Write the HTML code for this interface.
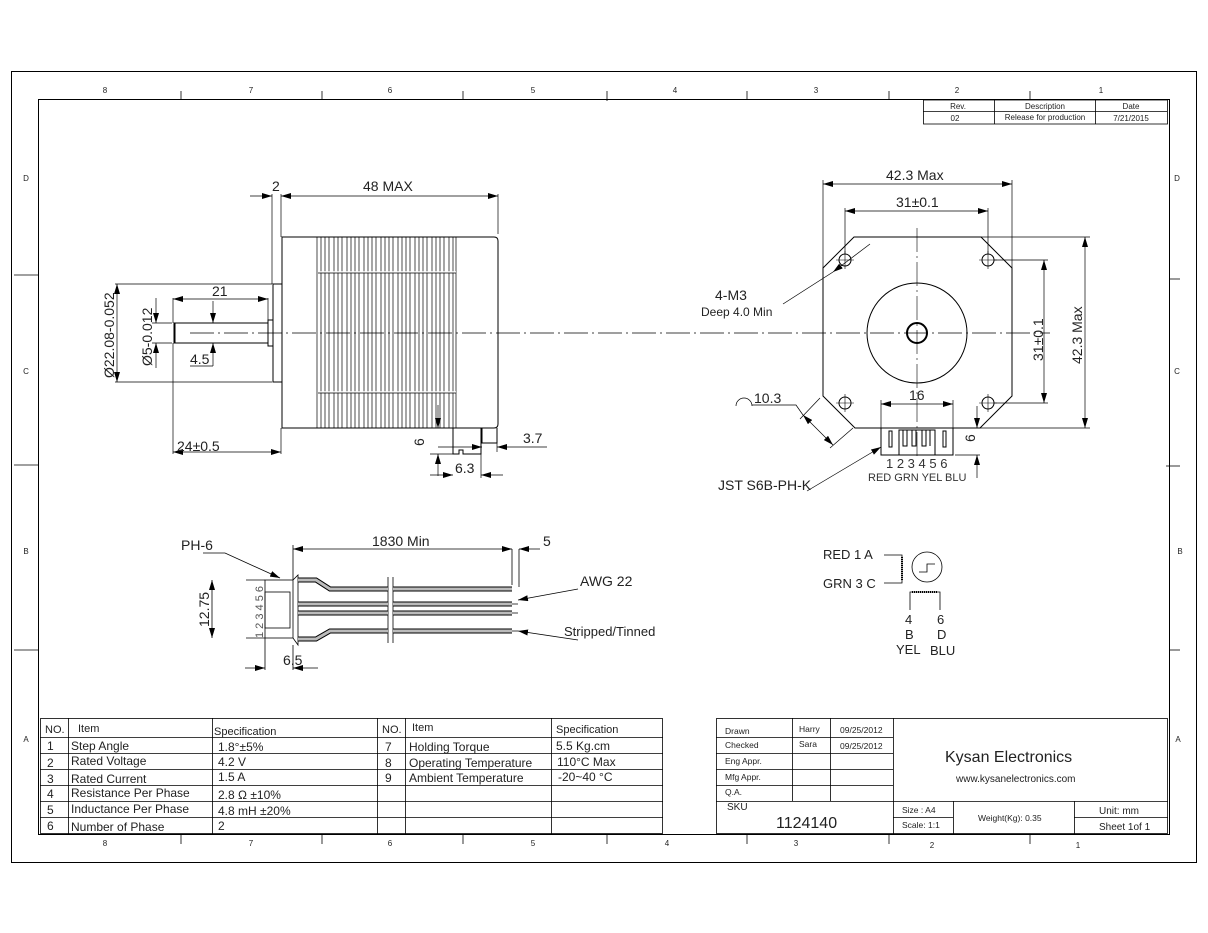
<!DOCTYPE html>
<html><head><meta charset="utf-8"><style>
html,body{margin:0;padding:0;background:#fff;}
svg{display:block;font-family:"Liberation Sans",sans-serif;}
.t{fill:#222;}
</style></head><body>
<svg width="1208" height="933" viewBox="0 0 1208 933" xmlns="http://www.w3.org/2000/svg">
<defs>
<marker id="a" viewBox="0 0 10 6" refX="10" refY="3" markerWidth="10" markerHeight="6" orient="auto-start-reverse" markerUnits="userSpaceOnUse"><path d="M0,0 L10,3 L0,6 z" fill="#000"/></marker>
</defs>
<rect width="1208" height="933" fill="#fff"/>
<!-- frame -->
<rect x="11.5" y="71.5" width="1185" height="791" fill="none" stroke="#000" stroke-width="1"/>
<rect x="38.5" y="99.5" width="1131" height="735" fill="none" stroke="#000" stroke-width="1"/>
<g stroke="#000" stroke-width="0.8">
<line x1="181" y1="91" x2="181" y2="99"/><line x1="322" y1="91" x2="322" y2="99"/><line x1="463" y1="91" x2="463" y2="99"/><line x1="607" y1="91" x2="607" y2="101"/><line x1="747" y1="91" x2="747" y2="99"/><line x1="889" y1="91" x2="889" y2="99"/><line x1="1030" y1="91" x2="1030" y2="99"/>
<line x1="181" y1="834" x2="181" y2="844"/><line x1="322" y1="834" x2="322" y2="844"/><line x1="463" y1="834" x2="463" y2="844"/><line x1="607" y1="834" x2="607" y2="844"/><line x1="747" y1="834" x2="747" y2="844"/><line x1="889" y1="834" x2="889" y2="844"/><line x1="1030" y1="834" x2="1030" y2="844"/>
<line x1="14" y1="275" x2="38" y2="275"/><line x1="14" y1="465" x2="38" y2="465"/><line x1="14" y1="650" x2="38" y2="650"/>
<line x1="1170" y1="279" x2="1180" y2="279"/><line x1="1166" y1="466" x2="1180" y2="466"/><line x1="1170" y1="650" x2="1180" y2="650"/>
</g>
<g font-size="8" class="t" text-anchor="middle">
<text x="105" y="93">8</text><text x="251" y="93">7</text><text x="390" y="93">6</text><text x="533" y="93">5</text><text x="675" y="93">4</text><text x="816" y="93">3</text><text x="957" y="93">2</text><text x="1101" y="93">1</text>
<text x="105" y="846">8</text><text x="251" y="846">7</text><text x="390" y="846">6</text><text x="533" y="846">5</text><text x="667" y="846">4</text><text x="796" y="846">3</text><text x="932" y="848">2</text><text x="1078" y="848">1</text>
<text x="26" y="181">D</text><text x="26" y="374">C</text><text x="26" y="554">B</text><text x="26" y="742">A</text>
<text x="1177" y="181">D</text><text x="1177" y="374">C</text><text x="1180" y="554">B</text><text x="1178" y="742">A</text>
</g>
<!-- rev table -->
<g stroke="#000" stroke-width="0.8" fill="none">
<rect x="923.5" y="100" width="244" height="24"/><line x1="923" y1="111.5" x2="1167" y2="111.5"/><line x1="994.5" y1="100" x2="994.5" y2="124"/><line x1="1095.5" y1="100" x2="1095.5" y2="124"/>
</g>
<g font-size="8" class="t" text-anchor="middle">
<text x="958" y="109">Rev.</text><text x="1045" y="109">Description</text><text x="1131" y="109">Date</text>
<text x="955" y="121">02</text><text x="1045" y="120">Release for production</text><text x="1131" y="121">7/21/2015</text>
</g>

<!-- SIDE VIEW -->
<g stroke="#000" stroke-width="1" fill="none">
<path d="M282,237 H494 Q498,237 498,241 V424 Q498,428 494,428 H282 Z"/>
<rect x="273" y="284" width="9" height="98"/>
<rect x="268" y="320" width="5" height="26"/>
<rect x="174" y="323" width="94" height="20"/>
<line x1="174.5" y1="323" x2="174.5" y2="343" stroke-width="2"/>
<path d="M453,428 V454 H459 V450 H463 V454 H481 V428"/>
<path d="M482,428 V443 H497 V428"/>
</g>
<g stroke="#000" stroke-width="0.7">
<path d="M317,237V428M321,237V428M325,237V428M329,237V428M334,237V428M338,237V428M342,237V428M347,237V428M351,237V428M355,237V428M359,237V428M364,237V428M368,237V428M372,237V428M376,237V428M381,237V428M385,237V428M389,237V428M393,237V428M398,237V428M402,237V428M406,237V428M410,237V428M415,237V428M419,237V428M423,237V428M427,237V428M432,237V428M436,237V428M440,237V428M444,237V428M449,237V428M453,237V428M456,237V428"/>
</g>
<g stroke="#fff" stroke-width="1.5"><line x1="318" y1="272" x2="456" y2="272"/><line x1="318" y1="392" x2="456" y2="392"/></g>
<g stroke="#000" stroke-width="0.7"><line x1="318" y1="273" x2="456" y2="273"/><line x1="318" y1="393" x2="456" y2="393"/></g>
<!-- center line -->
<line x1="190" y1="333" x2="1050" y2="333" stroke="#000" stroke-width="0.7" stroke-dasharray="24,4,2,4"/>
<!-- dims side -->
<g stroke="#000" stroke-width="0.7" fill="none">
<line x1="272" y1="194" x2="272" y2="284"/><line x1="281" y1="194" x2="281" y2="237"/><line x1="498" y1="194" x2="498" y2="234"/>
<line x1="250" y1="196" x2="272" y2="196" marker-end="url(#a)"/><line x1="281" y1="196" x2="498" y2="196" marker-start="url(#a)" marker-end="url(#a)"/>
<line x1="115" y1="284" x2="272" y2="284"/><line x1="115" y1="382" x2="272" y2="382"/>
<line x1="117" y1="284" x2="117" y2="382" marker-start="url(#a)" marker-end="url(#a)"/>
<line x1="152" y1="323" x2="172" y2="323"/><line x1="152" y1="343" x2="172" y2="343"/>
<line x1="156" y1="298" x2="156" y2="323" marker-end="url(#a)"/><line x1="156" y1="368" x2="156" y2="343" marker-end="url(#a)"/>
<line x1="173" y1="298" x2="173" y2="323"/><line x1="268" y1="298" x2="268" y2="320"/>
<line x1="173" y1="299" x2="268" y2="299" marker-start="url(#a)" marker-end="url(#a)"/>
<line x1="213" y1="301" x2="213" y2="323" marker-end="url(#a)"/><line x1="213" y1="366" x2="213" y2="343" marker-end="url(#a)"/><line x1="190" y1="366" x2="213" y2="366"/>
<line x1="173" y1="343" x2="173" y2="454"/><line x1="281" y1="428" x2="281" y2="454"/>
<line x1="173" y1="452" x2="281" y2="452" marker-start="url(#a)" marker-end="url(#a)"/>
<line x1="438" y1="405" x2="438" y2="428" marker-end="url(#a)"/><line x1="438" y1="476" x2="438" y2="454" marker-end="url(#a)"/>
<line x1="430" y1="454" x2="453" y2="454"/>
<line x1="430" y1="475" x2="453" y2="475" marker-end="url(#a)"/><line x1="503" y1="475" x2="481" y2="475" marker-end="url(#a)"/><line x1="481" y1="454" x2="481" y2="478"/>
<line x1="438" y1="447" x2="482" y2="447" marker-end="url(#a)"/><line x1="547" y1="447" x2="497" y2="447" marker-end="url(#a)"/><line x1="497" y1="443" x2="497" y2="452"/>
</g>
<g class="t" font-size="14">
<text x="272" y="191">2</text><text x="363" y="191">48 MAX</text>
<text x="212" y="296">21</text><text x="190" y="364">4.5</text>
<text x="177" y="451">24±0.5</text>
<text x="455" y="473">6.3</text><text x="523" y="443">3.7</text>
<text transform="translate(114,378) rotate(-90)">Ø22.08-0.052</text>
<text transform="translate(152,366) rotate(-90)">Ø5-0.012</text>
<text transform="translate(424,446) rotate(-90)">6</text>
</g>

<!-- FRONT VIEW -->
<g stroke="#000" stroke-width="1" fill="none">
<path d="M854,237 H981 L1012,268 V396 L980,428 H855 L823,396 V268 Z"/>
<circle cx="917" cy="333" r="50"/>
<circle cx="917" cy="333" r="10" stroke-width="2"/>
<circle cx="845" cy="260" r="6"/><circle cx="988" cy="260" r="6"/><circle cx="845" cy="403" r="6"/><circle cx="988" cy="403" r="6"/>
<rect x="881" y="428" width="72" height="27"/>
<rect x="889" y="431" width="3" height="16"/><rect x="943" y="431" width="3" height="16"/>
<path d="M899,455 V430 H935 V455"/><path d="M903,430V446h4V430M912,430V446h4V430M922,430V446h4V430M930,430V446"/>
</g>
<g stroke="#000" stroke-width="0.6">
<line x1="836" y1="260" x2="854" y2="260"/><line x1="845" y1="251" x2="845" y2="269"/>
<line x1="979" y1="260" x2="997" y2="260"/><line x1="988" y1="251" x2="988" y2="269"/>
<line x1="836" y1="403" x2="854" y2="403"/><line x1="845" y1="394" x2="845" y2="412"/>
<line x1="979" y1="403" x2="997" y2="403"/><line x1="988" y1="394" x2="988" y2="412"/>
<line x1="917" y1="228" x2="917" y2="460" stroke-dasharray="24,4,2,4"/>
</g>
<g stroke="#000" stroke-width="0.7" fill="none">
<line x1="823" y1="180" x2="823" y2="268"/><line x1="1012" y1="180" x2="1012" y2="268"/>
<line x1="823" y1="184" x2="1012" y2="184" marker-start="url(#a)" marker-end="url(#a)"/>
<line x1="845" y1="208" x2="845" y2="254"/><line x1="988" y1="208" x2="988" y2="254"/>
<line x1="845" y1="211" x2="988" y2="211" marker-start="url(#a)" marker-end="url(#a)"/>
<line x1="981" y1="237" x2="1090" y2="237"/><line x1="980" y1="428" x2="1090" y2="428"/>
<line x1="1085" y1="237" x2="1085" y2="428" marker-start="url(#a)" marker-end="url(#a)"/>
<line x1="994" y1="260" x2="1048" y2="260"/><line x1="994" y1="403" x2="1048" y2="403"/>
<line x1="1044" y1="260" x2="1044" y2="403" marker-start="url(#a)" marker-end="url(#a)"/>
<line x1="870" y1="244" x2="833" y2="272" marker-end="url(#a)"/>
<polyline points="783,304 833,272"/>
<line x1="881" y1="400" x2="881" y2="428"/><line x1="953" y1="400" x2="953" y2="428"/>
<line x1="881" y1="404" x2="953" y2="404" marker-start="url(#a)" marker-end="url(#a)"/>
<line x1="955" y1="455" x2="980" y2="455"/>
<line x1="977" y1="406" x2="977" y2="428" marker-end="url(#a)"/><line x1="977" y1="478" x2="977" y2="455" marker-end="url(#a)"/>
<polyline points="752,405 796,405 803,415"/>
<line x1="803" y1="415" x2="833" y2="445" marker-start="url(#a)" marker-end="url(#a)"/>
<line x1="800" y1="419" x2="820" y2="398"/><line x1="830" y1="448" x2="853" y2="428"/>
<path d="M736,406 A8,8 0 0 1 752,406"/>
<polyline points="807,491 881,447" marker-end="url(#a)"/>
</g>
<g class="t" font-size="14">
<text x="886" y="180">42.3 Max</text><text x="896" y="207">31±0.1</text>
<text x="715" y="300">4-M3</text><text x="701" y="316" font-size="12">Deep 4.0 Min</text>
<text x="754" y="403">10.3</text><text x="909" y="400">16</text>
<text x="718" y="490">JST S6B-PH-K</text>
<text transform="translate(1082,364) rotate(-90)">42.3 Max</text>
<text transform="translate(1043,361) rotate(-90)">31±0.1</text>
<text transform="translate(975,442) rotate(-90)">6</text>
<text x="886" y="468" font-size="13" fill="#333">1 2 3 4 5 6</text>
<text x="868" y="481" font-size="11" fill="#333">RED GRN  YEL BLU</text>
</g>

<!-- HARNESS -->
<g stroke="#000" stroke-width="0.8" fill="none">
<rect x="265" y="580" width="28" height="58"/>
<rect x="265" y="592" width="25" height="36"/>
<path d="M293,580 L298,575 V645 L293,638"/>
<line x1="293" y1="545" x2="293" y2="580"/>
<line x1="246" y1="580" x2="265" y2="580"/><line x1="246" y1="638" x2="265" y2="638"/>
<line x1="212" y1="580" x2="212" y2="638" marker-start="url(#a)" marker-end="url(#a)"/>
<line x1="265" y1="638" x2="265" y2="670"/><line x1="293" y1="645" x2="293" y2="670"/>
<line x1="245" y1="668" x2="265" y2="668" marker-end="url(#a)"/><line x1="318" y1="668" x2="293" y2="668" marker-end="url(#a)"/>
<line x1="293" y1="549" x2="512" y2="549" marker-start="url(#a)" marker-end="url(#a)"/>
<line x1="512" y1="549" x2="512" y2="585"/><line x1="519" y1="549" x2="519" y2="587"/>
<line x1="540" y1="549" x2="519" y2="549" marker-end="url(#a)"/>
<polyline points="203,553 225,553 280,578" marker-end="url(#a)"/>
<line x1="578" y1="589" x2="518" y2="600" marker-end="url(#a)"/>
<line x1="578" y1="640" x2="518" y2="631" marker-end="url(#a)"/>
<line x1="388" y1="577" x2="388" y2="643"/><line x1="393" y1="577" x2="393" y2="643"/>
</g>
<g fill="none">
<path d="M298,580 H316 L330,589 H388 M393,589 H512" stroke="#000" stroke-width="5"/>
<path d="M298,580 H316 L330,589 H388 M393,589 H512" stroke="#bbb" stroke-width="3"/>
<path d="M298,604 H388 M393,604 H512 M298,613 H388 M393,613 H512" stroke="#000" stroke-width="5"/>
<path d="M298,604 H388 M393,604 H512 M298,613 H388 M393,613 H512" stroke="#bbb" stroke-width="3"/>
<path d="M298,639 H316 L330,631 H388 M393,631 H512" stroke="#000" stroke-width="5"/>
<path d="M298,639 H316 L330,631 H388 M393,631 H512" stroke="#bbb" stroke-width="3"/>
<path d="M512,604H518M512,613H518M512,631H518" stroke="#000" stroke-width="0.8"/>
</g>
<g class="t" font-size="14">
<text x="181" y="550">PH-6</text><text x="372" y="546">1830 Min</text><text x="543" y="546">5</text>
<text x="580" y="586">AWG 22</text><text x="564" y="636" font-size="13">Stripped/Tinned</text>
<text x="283" y="665">6.5</text>
<text transform="translate(209,627) rotate(-90)">12.75</text>
<text transform="translate(263,638) rotate(-90)" font-size="11" fill="#555">1 2 3 4 5 6</text>
</g>

<!-- schematic -->
<g stroke="#000" stroke-width="0.8" fill="none">
<circle cx="927" cy="567" r="15"/>
<polyline points="919,572 927,572 927,564 935,564"/>
<polyline points="884,555 902,555 902,583 884,583"/>
<polyline points="910,610 910,592 940,592 940,610"/>
</g>
<g stroke="#000" stroke-width="2" stroke-dasharray="1,1"><line x1="902" y1="557" x2="902" y2="581"/><line x1="912" y1="592" x2="938" y2="592"/></g>
<g class="t" font-size="13">
<text x="823" y="559">RED  1  A</text><text x="823" y="588">GRN  3  C</text>
<text x="905" y="624">4</text><text x="937" y="624">6</text>
<text x="905" y="639">B</text><text x="937" y="639">D</text>
<text x="896" y="654">YEL</text><text x="930" y="655">BLU</text>
</g>

<!-- spec table -->
<g stroke="#000" stroke-width="0.8" fill="none">
<rect x="40.5" y="718.5" width="622" height="115"/>
<path d="M40,737.5H663M40,753.5H663M40,769.5H663M40,785.5H663M40,801.5H663M40,817.5H663"/>
<path d="M68.5,718V834M212.5,718V834M377.5,718V834M405.5,718V834M551.5,718V834"/>
</g>
<g class="t" font-size="12">
<text x="45" y="733" font-size="11">NO.</text><text x="78" y="732" font-size="11">Item</text><text x="214" y="735" font-size="11">Specification</text>
<text x="382" y="733" font-size="11">NO.</text><text x="412" y="731" font-size="11">Item</text><text x="556" y="733" font-size="11">Specification</text>
<text x="47" y="750">1</text><text x="71" y="750">Step Angle</text><text x="218" y="751">1.8°±5%</text>
<text x="47" y="767">2</text><text x="71" y="765">Rated Voltage</text><text x="218" y="766">4.2 V</text>
<text x="47" y="783">3</text><text x="71" y="783">Rated Current</text><text x="218" y="781">1.5 A</text>
<text x="47" y="798">4</text><text x="71" y="797">Resistance Per Phase</text><text x="218" y="799">2.8 Ω  ±10%</text>
<text x="47" y="814">5</text><text x="71" y="813">Inductance Per Phase</text><text x="218" y="815">4.8 mH ±20%</text>
<text x="47" y="830">6</text><text x="71" y="831">Number of Phase</text><text x="218" y="830">2</text>
<text x="385" y="751">7</text><text x="409" y="751">Holding Torque</text><text x="556" y="750">5.5 Kg.cm</text>
<text x="385" y="767">8</text><text x="409" y="767">Operating Temperature</text><text x="557" y="766">110°C Max</text>
<text x="385" y="782">9</text><text x="409" y="782">Ambient Temperature</text><text x="558" y="781">-20~40 °C</text>
</g>

<!-- title block -->
<g stroke="#000" stroke-width="0.8" fill="none">
<rect x="716.5" y="718.5" width="451" height="115"/>
<path d="M716,737.5H893M716,753.5H893M716,769.5H893M716,785.5H893M716,801.5H1168"/>
<path d="M792.5,718V801M830.5,718V801M893.5,718V834M953.5,801V834M1074.5,801V834M893,817.5H953M1074,817.5H1168"/>
</g>
<g class="t" font-size="8.5">
<text x="725" y="734">Drawn</text><text x="725" y="748">Checked</text><text x="725" y="764">Eng Appr.</text><text x="725" y="780">Mfg Appr.</text><text x="725" y="795">Q.A.</text>
<text x="727" y="810" font-size="10">SKU</text>
<text x="799" y="732">Harry</text><text x="799" y="747">Sara</text>
<text x="840" y="733">09/25/2012</text><text x="840" y="749">09/25/2012</text>
<text x="902" y="813">Size : A4</text><text x="902" y="828">Scale: 1:1</text>
<text x="978" y="821">Weight(Kg):  0.35</text>
<text x="1099" y="814" font-size="10">Unit: mm</text><text x="1099" y="830" font-size="10">Sheet 1of 1</text>
<text x="945" y="762" font-size="16">Kysan Electronics</text>
<text x="956" y="782" font-size="10">www.kysanelectronics.com</text>
<text x="776" y="828" font-size="16">1124140</text>
</g>
</svg>
</body></html>
